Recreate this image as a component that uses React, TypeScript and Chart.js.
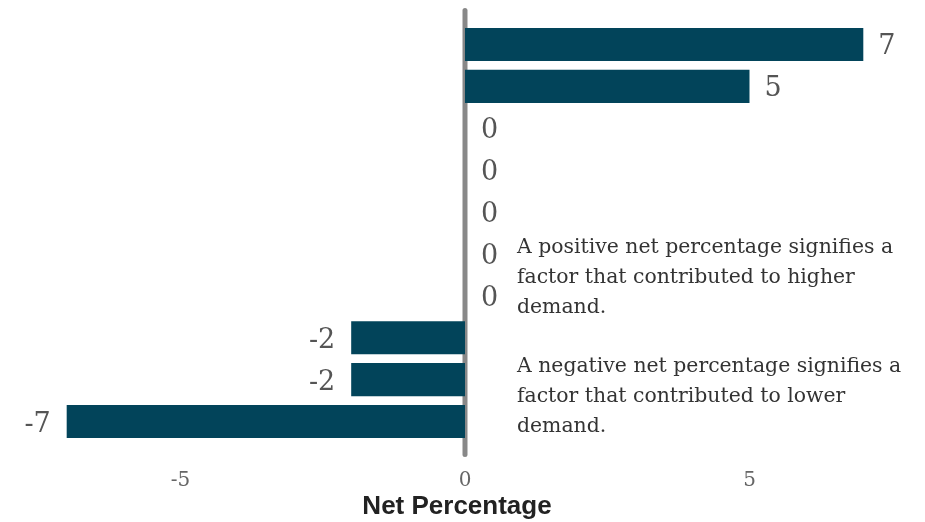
import React, { useEffect, useRef } from "react";
import { Chart, registerables } from "chart.js";

Chart.register(...registerables);

const categories = ["F1", "F2", "F3", "F4", "F5", "F6", "F7", "F8", "F9", "F10"];
const netValues = [7, 5, 0, 0, 0, 0, 0, -2, -2, -7];
const xTickValues = [-5, 0, 5];
const noteLines = [
  "A positive net percentage signifies a",
  "factor that contributed to higher",
  "demand.",
  "",
  "A negative net percentage signifies a",
  "factor that contributed to lower",
  "demand.",
];
const axisTitle = "Net Percentage";

const SERIF = "'DejaVu Serif', Georgia, serif";
const BAR_COLOR = "#02445A";

export default function App() {
  const ref = useRef<HTMLCanvasElement | null>(null);

  useEffect(() => {
    if (!ref.current) return;

    const zeroLine = {
      id: "zeroLine",
      beforeDatasetsDraw(chart: any) {
        const { ctx, chartArea, scales } = chart;
        const x = scales.x.getPixelForValue(0);
        ctx.save();
        ctx.strokeStyle = "#888888";
        ctx.lineWidth = 5;
        ctx.lineCap = "round";
        ctx.beginPath();
        ctx.moveTo(x, chartArea.top - 13);
        ctx.lineTo(x, chartArea.bottom + 12);
        ctx.stroke();
        ctx.restore();
      },
    };

    const valueLabels = {
      id: "valueLabels",
      afterDatasetsDraw(chart: any) {
        const { ctx } = chart;
        const meta = chart.getDatasetMeta(0);
        ctx.save();
        ctx.fillStyle = "#555555";
        ctx.font = `27px ${SERIF}`;
        ctx.textBaseline = "middle";
        meta.data.forEach((bar: any, i: number) => {
          const v = netValues[i];
          if (v < 0) {
            ctx.textAlign = "right";
            ctx.fillText(String(v), bar.x - 16, bar.y + 3);
          } else {
            ctx.textAlign = "left";
            ctx.fillText(String(v), bar.x + (v === 0 ? 16 : 15), bar.y + 3);
          }
        });
        ctx.restore();
      },
    };

    const notes = {
      id: "notes",
      afterDraw(chart: any) {
        const { ctx, scales, chartArea } = chart;
        const x = scales.x.getPixelForValue(0) + 52;
        ctx.save();
        ctx.fillStyle = "#333333";
        ctx.font = `20.4px ${SERIF}`;
        ctx.textAlign = "left";
        ctx.textBaseline = "alphabetic";
        noteLines.forEach((line, i) => {
          ctx.fillText(line, x, chartArea.top + 229.5 + i * 29.8);
        });
        ctx.restore();
      },
    };

    const chart = new Chart(ref.current, {
      type: "bar",
      data: {
        labels: categories,
        datasets: [
          {
            data: netValues,
            backgroundColor: BAR_COLOR,
            borderWidth: 0,
            barPercentage: 0.79,
            categoryPercentage: 1,
          },
        ],
      },
      options: {
        indexAxis: "y",
        animation: false,
        responsive: true,
        maintainAspectRatio: false,
        layout: { padding: { left: 0, right: 11, top: 23.5, bottom: 0 } },
        plugins: {
          legend: { display: false },
          tooltip: { enabled: false },
        },
        scales: {
          x: {
            type: "linear",
            min: -8.172,
            max: 7.891,
            afterBuildTicks: (scale: any) => {
              scale.ticks = xTickValues.map((v) => ({ value: v }));
            },
            afterFit: (scale: any) => {
              scale.height = 79.5;
            },
            grid: { display: false, drawTicks: false },
            border: { display: false },
            ticks: {
              padding: 26,
              color: "#666666",
              font: { family: SERIF, size: 20 },
              maxRotation: 0,
              autoSkip: false,
              callback: (v: any) => String(v),
            },
            title: {
              display: true,
              text: axisTitle,
              color: "#222222",
              font: { family: "'Liberation Sans', Arial, sans-serif", size: 26, weight: "bold" },
              padding: { top: 0, bottom: 0 },
            },
          },
          y: {
            display: false,
            grid: { display: false },
          },
        },
      },
      plugins: [zeroLine, valueLabels, notes],
    });

    return () => chart.destroy();
  }, []);

  return (
    <div style={{ position: "fixed", left: 0, top: 0, width: 925, height: 522, background: "#fff" }}>
      <canvas ref={ref} />
    </div>
  );
}
